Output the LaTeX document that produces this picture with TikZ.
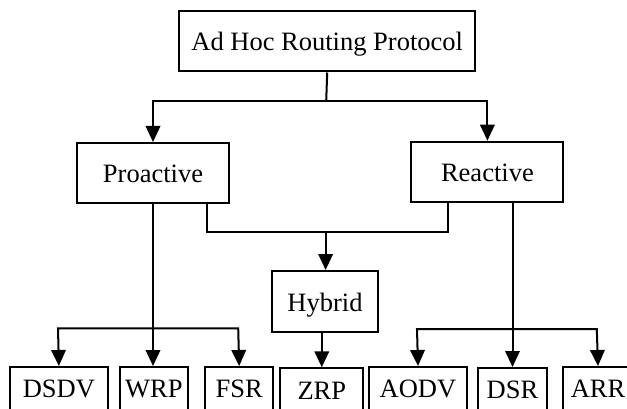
\documentclass[tikz,border=0pt]{standalone}
\usepackage{fontspec}
\setmainfont{Liberation Serif}
\usetikzlibrary{arrows.meta,calc}
\begin{document}
\begin{tikzpicture}[x=1pt,y=-1pt,
  box/.style={draw=black, line width=2pt, rectangle, inner sep=0pt, anchor=north west,
    font=\fontsize{26.5}{30}\selectfont, text height=40pt, text depth=20.5pt},
  leaf/.style={box, text height=30.7pt, text depth=24pt},
  conn/.style={line width=2pt, line join=miter},
  arr/.style={conn, -{Triangle[width=14.5pt,length=16pt]}},
  arr2/.style={conn, {Triangle[width=14.5pt,length=16pt]}-{Triangle[width=14.5pt,length=16pt]}}]
\useasboundingbox (0,0) rectangle (627,409);
\clip (0,0) rectangle (627,409);
% nodes
\node[box, minimum width=295.6pt] (top) at (178.4,10) {Ad Hoc Routing Protocol};
\node[box, minimum width=152pt] (pro) at (76,142) {Proactive};
\node[box, minimum width=152pt] (rea) at (410.4,140.7) {Reactive};
\node[box, minimum width=106pt] (hyb) at (271,270) {Hybrid};
\node[leaf, minimum width=98.8pt] (dsdv) at (8.5,366) {DSDV};
\node[leaf, minimum width=68.7pt] (wrp) at (118.5,366) {WRP};
\node[leaf, minimum width=67.6pt] (fsr) at (204.4,366) {FSR};
\node[leaf, minimum width=83.2pt] (zrp) at (279.2,367.3) {ZRP};
\node[leaf, minimum width=98pt] (aodv) at (368,366) {AODV};
\node[leaf, minimum width=69pt] (dsr) at (477,367) {DSR};
\node[leaf, minimum width=70pt] (arr) at (562,366) {ARR};
% junctions
\coordinate (j1) at (326.2,101);
\coordinate (j2) at (325.6,231.7);
\coordinate (l1) at (58,328.3);
\coordinate (l2) at (238.2,328.3);
\coordinate (r1) at (417,329);
\coordinate (r2) at (596.8,329);
% connectors
\draw[conn] (top.south) -- (j1);
\draw[arr] (j1) -| (pro.north);
\draw[arr] (j1) -| (rea.north);
\draw[conn] ($(pro.south)+(54,0)$) |- (j2) -| ($(rea.south)+(-39.2,0)$);
\draw[arr] (j2) -- (j2 |- hyb.north);
\draw[arr] (pro.south) -- (pro.south |- wrp.north);
\draw[arr] (rea.south -| dsr.north) -- (dsr.north);
\draw[arr] (hyb.south -| zrp.north) -- (zrp.north);
\draw[arr2] (dsdv.north) -- (l1) -- (l2) -- (fsr.north);
\draw[arr2] (aodv.north) -- (r1) -- (r2) -- (arr.north);
\end{tikzpicture}
\end{document}
